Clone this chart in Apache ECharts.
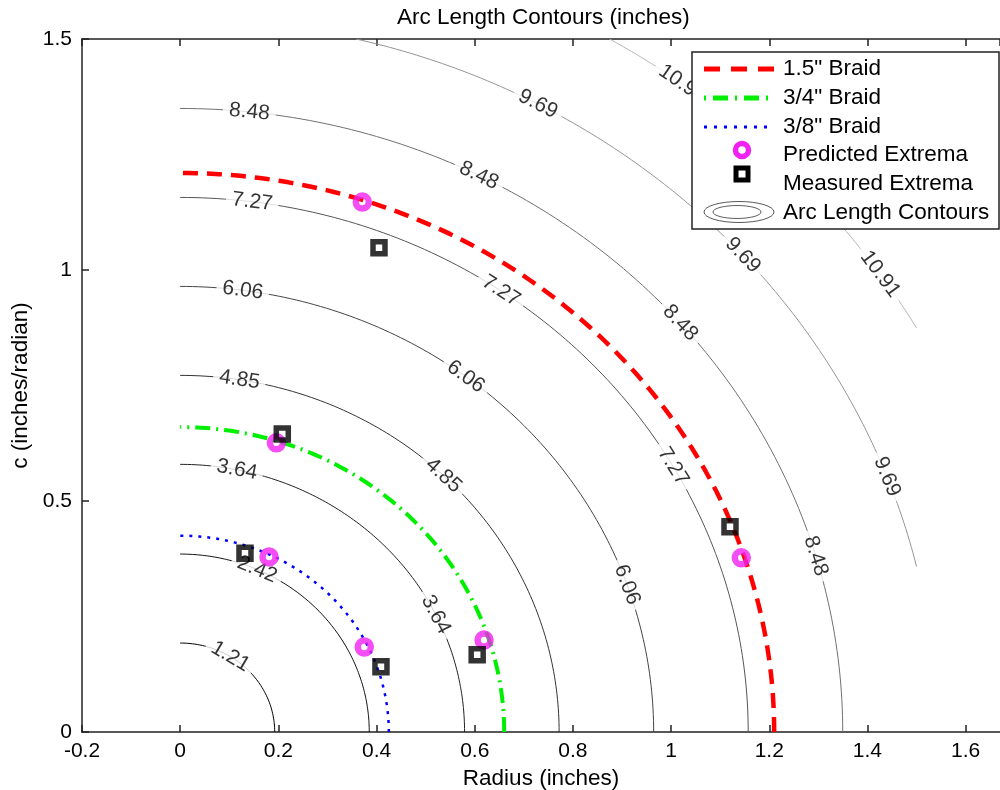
<!DOCTYPE html>
<html>
<head>
<meta charset="utf-8">
<title>Arc Length Contours</title>
<script src="https://cdn.jsdelivr.net/npm/echarts@6/dist/echarts.min.js"></script>
<style>
  html, body { margin: 0; padding: 0; background: #fff; }
  #chart { width: 1000px; height: 790px; }
</style>
</head>
<body>
<div id="chart"></div>
<script>
// arc length of one helix turn, L = 2*pi*sqrt(r^2 + c^2), contoured at these levels
var contourLevels = [1.21, 2.42, 3.64, 4.85, 6.06, 7.27, 8.48, 9.69, 10.91];
var contourGrays  = ['#000', '#111', '#222', '#333', '#444', '#555', '#707070', '#959595', '#b5b5b5'];
// clabel spots: [level, polar angle (deg)]
var contourLabelSpots = [
    [1.21, 58], [2.42, 66],
    [3.64, 78.5], [3.64, 26],
    [4.85, 81], [4.85, 46],
    [6.06, 82.4], [6.06, 52.9], [6.06, 19.3],
    [7.27, 82.7], [7.27, 55.6], [7.27, 29.8],
    [8.48, 84], [8.48, 63.2], [8.48, 41], [8.48, 16.4],
    [9.69, 61.8], [9.69, 42], [9.69, 21],
    [10.91, 53.9], [10.91, 34.8]
];
var domainMax = 1.5;   // r and c were only computed up to here

// braids: where each curve crosses the axes (inches)
var braidNames  = ['1.5" Braid', '3/4" Braid', '3/8" Braid'];
var braidRadius = [1.21, 0.66, 0.425];

var predictedR = [0.371, 0.196, 0.181, 0.375, 0.619, 1.143];
var predictedC = [1.147, 0.626, 0.379, 0.184, 0.199, 0.377];
var measuredR  = [0.405, 0.208, 0.132, 0.409, 0.605, 1.120];
var measuredC  = [1.048, 0.645, 0.387, 0.141, 0.167, 0.444];

var xMin = -0.2, xMax = 1.67, xStep = 0.2;
var yMin = 0, yMax = 1.5, yStep = 0.5;

var FONT = '"Liberation Sans", Arial, Helvetica, sans-serif';

function arcPoints(R) {
    var a0 = R > domainMax ? Math.acos(domainMax / R) : 0;
    var a1 = R > domainMax ? Math.asin(domainMax / R) : Math.PI / 2;
    var pts = [];
    for (var i = 0; i <= 120; i++) {
        var a = a0 + (a1 - a0) * i / 120;
        pts.push([R * Math.cos(a), R * Math.sin(a)]);
    }
    return pts;
}
function zip(a, b) {
    return a.map(function (v, i) { return [v, b[i]]; });
}

var chart = echarts.init(document.getElementById('chart'));

var series = [];
contourLevels.forEach(function (L, i) {
    series.push({
        name: 'Arc Length Contours',
        type: 'line',
        data: arcPoints(L / (2 * Math.PI)),
        symbol: 'none',
        silent: true,
        z: 2,
        lineStyle: { color: contourGrays[i], width: 1 }
    });
});
series.push({
    id: 'labels',
    type: 'scatter',
    data: [],
    symbolSize: 1,
    silent: true,
    z: 3,
    itemStyle: { color: 'rgba(0,0,0,0)' },
    label: {
        show: true,
        position: 'inside',
        formatter: function (p) { return p.name; },
        color: '#000',
        fontFamily: FONT,
        fontSize: 21,
        backgroundColor: '#fff',
        padding: [0, 6]
    }
});
var braidStyles = [
    { color: '#ff0000', width: 4.5, type: [15, 9] },
    { color: '#00ee00', width: 4, type: [15, 6, 2, 6] },
    { color: '#0000ff', width: 2.5, type: [3, 6] }
];
braidRadius.forEach(function (R, i) {
    series.push({
        name: braidNames[i],
        type: 'line',
        data: arcPoints(R),
        symbol: 'none',
        silent: true,
        z: 4,
        lineStyle: braidStyles[i]
    });
});
series.push({
    name: 'Predicted Extrema',
    type: 'scatter',
    data: zip(predictedR, predictedC),
    symbol: 'circle',
    symbolSize: 13,
    z: 5,
    itemStyle: { color: 'rgba(0,0,0,0)', borderColor: '#f020f0', borderWidth: 6.5 }
});
series.push({
    name: 'Measured Extrema',
    type: 'scatter',
    data: zip(measuredR, measuredC),
    symbol: 'rect',
    symbolSize: 12,
    z: 5,
    itemStyle: { color: 'rgba(0,0,0,0)', borderColor: '#000', borderWidth: 5.5 }
});

var axisLineStyle = { color: '#222', width: 1.5 };
var lx = 704, lx2 = 774, tx = 783;
var rows = [69, 98, 127, 155, 184, 213];
var legendText = braidNames.concat(['Predicted Extrema', 'Measured Extrema', 'Arc Length Contours']);
var graphics = [
    { type: 'rect', z: 100, shape: { x: 692, y: 52, width: 307, height: 177 },
      style: { fill: '#fff', stroke: '#222', lineWidth: 1.5 } },
    { type: 'line', z: 101, shape: { x1: lx, y1: rows[0], x2: lx2, y2: rows[0] },
      style: { stroke: '#ff0000', lineWidth: 5, lineDash: [16, 11] } },
    { type: 'line', z: 101, shape: { x1: lx, y1: rows[1], x2: lx2, y2: rows[1] },
      style: { stroke: '#00ee00', lineWidth: 5, lineDash: [2, 7, 15, 7] } },
    { type: 'line', z: 101, shape: { x1: lx, y1: rows[2], x2: lx2, y2: rows[2] },
      style: { stroke: '#0000ff', lineWidth: 3, lineDash: [3, 7] } },
    { type: 'circle', z: 101, shape: { cx: 742, cy: rows[3] - 5, r: 6.5 },
      style: { fill: 'none', stroke: '#f020f0', lineWidth: 5.5 } },
    { type: 'rect', z: 101, shape: { x: 736, y: rows[4] - 16, width: 12, height: 12 },
      style: { fill: 'none', stroke: '#000', lineWidth: 5 } },
    { type: 'circle', z: 101, x: 739, y: rows[5] - 1, scaleY: 0.3, shape: { cx: 0, cy: 0, r: 35 },
      style: { fill: 'none', stroke: '#000', lineWidth: 1, strokeNoScale: true } },
    { type: 'circle', z: 101, x: 737, y: rows[5] - 1, scaleY: 0.27, shape: { cx: 0, cy: 0, r: 24 },
      style: { fill: 'none', stroke: '#000', lineWidth: 1, strokeNoScale: true } }
];
legendText.forEach(function (t, i) {
    graphics.push({
        type: 'text', z: 102, x: tx, y: rows[i],
        style: { text: t, fill: '#000', fontFamily: FONT, fontSize: 22.5, verticalAlign: 'middle' }
    });
});

chart.setOption({
    animation: false,
    backgroundColor: '#fff',
    title: {
        text: 'Arc Length Contours (inches)',
        left: 397,
        top: 6,
        padding: 0,
        textStyle: { color: '#000', fontFamily: FONT, fontSize: 22.5, fontWeight: 'normal' }
    },
    grid: { left: 82, right: 0, top: 39, bottom: 58, outerBoundsMode: 'none', containLabel: false },
    xAxis: [{
        type: 'value',
        min: xMin, max: xMax, interval: xStep,
        name: 'Radius (inches)',
        nameLocation: 'middle',
        nameGap: 32,
        nameTextStyle: { color: '#000', fontFamily: FONT, fontSize: 22.5 },
        axisLine: { show: true, onZero: false, lineStyle: axisLineStyle },
        axisTick: { show: true, inside: true, length: 7, lineStyle: axisLineStyle },
        axisLabel: { color: '#000', fontFamily: FONT, fontSize: 21, margin: 9, showMaxLabel: false },
        splitLine: { show: false }
    }, {
        type: 'value',
        position: 'top',
        min: xMin, max: xMax, interval: xStep,
        axisLine: { show: true, onZero: false, lineStyle: axisLineStyle },
        axisTick: { show: true, inside: true, length: 7, lineStyle: axisLineStyle },
        axisLabel: { show: false },
        splitLine: { show: false }
    }],
    yAxis: {
        type: 'value',
        min: yMin, max: yMax, interval: yStep,
        name: 'c (inches/radian)',
        nameLocation: 'middle',
        nameGap: 40,
        nameTextStyle: { color: '#000', fontFamily: FONT, fontSize: 22.5 },
        axisLine: { show: true, onZero: false, lineStyle: axisLineStyle },
        axisTick: { show: true, inside: true, length: 7, lineStyle: axisLineStyle },
        axisLabel: { color: '#000', fontFamily: FONT, fontSize: 21, margin: 10 },
        splitLine: { show: false }
    },
    graphic: graphics,
    series: series
});

// contour labels follow the curve direction on screen
var labelData = contourLabelSpots.map(function (s) {
    var R = s[0] / (2 * Math.PI), a = s[1] * Math.PI / 180, d = 0.01;
    var p0 = chart.convertToPixel({ gridIndex: 0 }, [R * Math.cos(a + d), R * Math.sin(a + d)]);
    var p1 = chart.convertToPixel({ gridIndex: 0 }, [R * Math.cos(a - d), R * Math.sin(a - d)]);
    var ang = Math.atan2(p1[1] - p0[1], p1[0] - p0[0]) * 180 / Math.PI;
    return {
        name: s[0].toFixed(2),
        value: [R * Math.cos(a), R * Math.sin(a)],
        label: { rotate: -ang }
    };
});
chart.setOption({ series: [{ id: 'labels', data: labelData }] });
</script>
</body>
</html>
